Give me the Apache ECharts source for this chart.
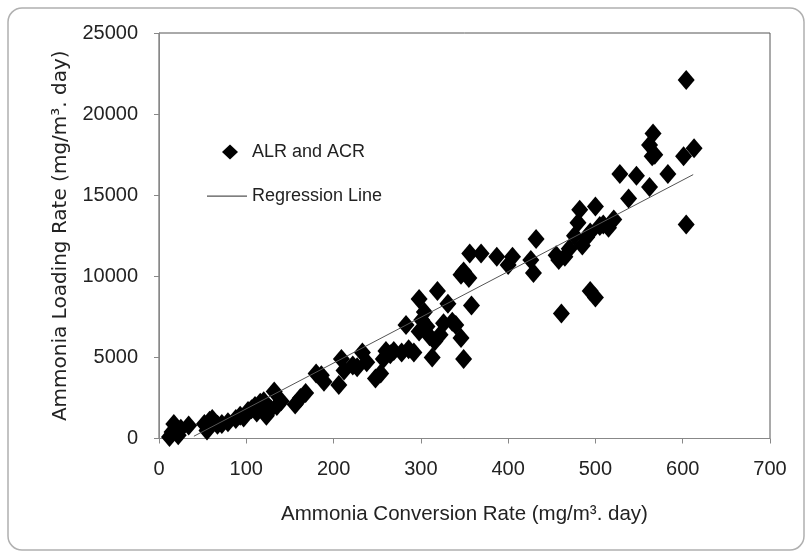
<!DOCTYPE html>
<html lang="en">
<head>
    <meta charset="utf-8">
    <title>ALR vs ACR</title>
    <script src="https://cdn.jsdelivr.net/npm/echarts@6/dist/echarts.min.js"></script>
    <style type="text/css">
        body {margin: 0; background: #fff;}
        #chart {width: 812px; height: 558px;}
    </style>
</head>
<body>
    <div id="chart"></div>
    <script>
        // ammonia conversion rate (x) and loading rate (y)
        var acr = [12, 15, 17, 20, 22, 25, 34, 52, 55, 58, 61, 67, 72, 79, 88, 93, 97, 102, 106,
            110, 112, 116, 120, 123, 128, 132, 135, 140, 156, 162, 168,
            180, 186, 189, 206, 209, 212, 222, 227, 233, 238, 248, 254, 257, 260, 265, 269, 278,
            283, 286, 292, 298, 298, 301, 304, 307, 310, 313, 316, 319, 322, 326, 331, 336, 340,
            346, 346, 349, 349, 355, 356, 358, 369, 387, 400, 405, 426, 429, 432,
            455, 458, 461, 465, 470, 476, 480, 482, 485, 490, 494, 494, 500, 500, 505, 509, 515, 521,
            528, 538, 547, 562, 562, 565, 566, 568, 583, 601, 604, 604, 613];
        var alr = [100, 400, 900, 500, 200, 600, 800, 900, 500, 1100, 1200, 850, 900, 1000, 1200, 1400, 1300, 1700, 1800,
            2000, 1600, 2200, 2300, 1400, 1800, 2900, 2000, 2300, 2100, 2500, 2800,
            4000, 3900, 3500, 3300, 4900, 4200, 4500, 4400, 5300, 4700, 3700, 4000, 4900, 5400, 5200, 5400, 5300,
            7000, 5500, 5300, 8600, 6600, 7300, 7800, 6900, 6300, 5000, 6000, 9100, 6400, 7100, 8300, 7200, 7000,
            6200, 10100, 4900, 10300, 9900, 11400, 8200, 11400, 11200, 10700, 11200, 11000, 10200, 12300,
            11300, 11000, 7700, 11200, 11700, 12500, 13300, 14100, 11900, 12400, 12700, 9100, 8700, 14300, 13100, 13200, 13000, 13500,
            16300, 14800, 16200, 15500, 18100, 17400, 18800, 17500, 16300, 17400, 22100, 13200, 17900];
        // regression line end points
        var regX = [40, 612];
        var regY = [140, 16270];

        var xTicks = {min: 0, max: 700, step: 100};
        var yTicks = {min: 0, max: 25000, step: 5000};

        var points = acr.map(function (x, i) { return [x, alr[i]]; });
        var line = regX.map(function (x, i) { return [x, regY[i]]; });

        var font = '"Liberation Sans", Arial, sans-serif';
        // legend icons padded to the full 40x15 box so they keep their shape
        var diamondIcon = 'path://M0,0M40,15M23,0L31,7.5L23,15L15,7.5Z';
        var lineIcon = 'path://M0,0M40,15M0,7L40,7L40,8.2L0,8.2Z';

        var chart = echarts.init(document.getElementById('chart'), null, {renderer: 'canvas'});
        chart.setOption({
            animation: false,
            backgroundColor: '#fff',
            graphic: [{
                type: 'rect', silent: true,
                shape: {x: 8, y: 8, width: 796, height: 542, r: 14},
                style: {fill: null, stroke: '#b0b0b0', lineWidth: 1.5}
            }],
            grid: {left: 159, top: 33, width: 611, height: 405.5, show: true,
                borderColor: '#555', borderWidth: 1, backgroundColor: 'transparent'},
            legend: {
                orient: 'vertical', left: 202, top: 138,
                itemWidth: 40, itemHeight: 15, itemGap: 26,
                textStyle: {fontFamily: font, fontSize: 18, color: '#222'},
                data: [
                    {name: 'ALR and ACR', icon: diamondIcon},
                    {name: 'Regression Line', icon: lineIcon}
                ]
            },
            xAxis: {
                type: 'value', min: xTicks.min, max: xTicks.max, interval: xTicks.step,
                name: 'Ammonia Conversion Rate (mg/m\u00b3. day)',
                nameLocation: 'middle', nameGap: 65,
                nameTextStyle: {fontFamily: font, fontSize: 20.5, color: '#222'},
                axisLine: {lineStyle: {color: '#888', width: 1}},
                axisTick: {show: true, inside: false, length: 5, lineStyle: {color: '#888'}},
                axisLabel: {fontFamily: font, fontSize: 20, color: '#222', margin: 21},
                splitLine: {show: false}
            },
            yAxis: {
                type: 'value', min: yTicks.min, max: yTicks.max, interval: yTicks.step,
                name: 'Ammonia Loading Rate (mg/m\u00b3. day)',
                nameLocation: 'middle', nameGap: 88,
                nameTextStyle: {fontFamily: '"DejaVu Sans", sans-serif', fontSize: 20, color: '#222'},
                axisLine: {show: true, lineStyle: {color: '#888', width: 1}},
                axisTick: {show: true, inside: false, length: 5, lineStyle: {color: '#888'}},
                axisLabel: {fontFamily: font, fontSize: 20, color: '#222', margin: 21,
                    formatter: function (v) { return String(v); }},
                splitLine: {show: false}
            },
            series: [{
                name: 'ALR and ACR', type: 'scatter',
                symbol: 'diamond', symbolSize: [17, 20],
                itemStyle: {color: '#000', opacity: 1},
                data: points
            }, {
                name: 'Regression Line', type: 'line',
                symbol: 'none', z: 3,
                lineStyle: {color: '#555', width: 1},
                itemStyle: {color: '#555'},
                data: line
            }]
        });
    </script>
</body>
</html>
